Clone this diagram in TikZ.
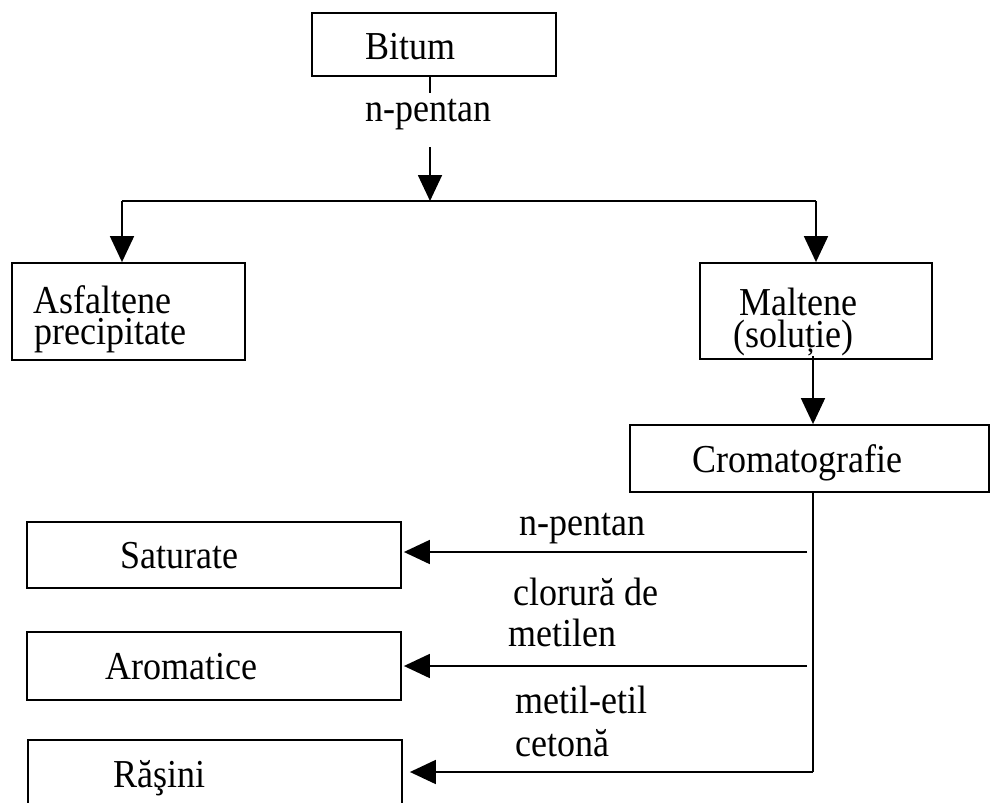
\documentclass[tikz,border=0pt]{standalone}
\usepackage{fontspec}
\setmainfont{Liberation Serif}
\usetikzlibrary{arrows.meta}
% slightly tall lettering
\newcommand\tall[1]{\scalebox{1}[1.1]{#1}}
\begin{document}
\begin{tikzpicture}[x=1pt,y=-1pt,
  box/.style={draw,line width=1.8pt,rectangle,inner sep=0pt},
  txt/.style={anchor=base west,inner sep=0pt,font=\fontsize{36}{30}\selectfont},
  link/.style={line width=1.8pt},
  arr/.style={line width=1.8pt,-{Triangle[length=26pt,width=24pt]}}]
\useasboundingbox (0,0) rectangle (991,803);
\clip (0,0) rectangle (991,803);

% boxes
\node[box,minimum width=244pt,minimum height=63pt] (bitum) at (434,44.5) {};
\node[box,minimum width=233pt,minimum height=97pt] (asf) at (128.5,311.5) {};
\node[box,minimum width=232pt,minimum height=96pt] (malt) at (816,311) {};
\node[box,minimum width=359pt,minimum height=67pt] (crom) at (809.5,458.5) {};
\node[box,minimum width=374pt,minimum height=66pt] (sat) at (214,555) {};
\node[box,minimum width=374pt,minimum height=68pt] (arom) at (214,666) {};
\node[box,minimum width=374pt,minimum height=120pt] (ras) at (215,800) {};

% box texts
\node[txt] (tbitum) at (365,59) {\tall{Bitum}};
\node[txt] (tasf1) at (33,313) {\tall{Asfaltene}};
\node[txt] (tasf2) at (34,344) {\tall{precipitate}};
\node[txt] (tmalt1) at (739,315) {\tall{Maltene}};
\node[txt] (tmalt2) at (733,347) {\tall{(soluție)}};
\node[txt] (tcrom) at (692,472) {\tall{Cromatografie}};
\node[txt] (tsat) at (120,568) {\tall{Saturate}};
\node[txt] (tarom) at (105,679) {\tall{Aromatice}};
\node[txt] (tras) at (113,787) {\tall{Răşini}};

% solvent labels
\node[txt] (l0) at (365,121) {\tall{n-pentan}};
\node[txt] (l1) at (519,535) {\tall{n-pentan}};
\node[txt] (l2a) at (513,605) {\tall{clorură de}};
\node[txt] (l2b) at (508,646) {\tall{metilen}};
\node[txt] (l3a) at (515,713) {\tall{metil-etil}};
\node[txt] (l3b) at (515,756) {\tall{cetonă}};

% junction points
\coordinate (j0a) at (430,93);
\coordinate (j0b) at (430,147);
\coordinate (j) at (430,201);
\coordinate (jl) at (122,201);
\coordinate (jr) at (816,201);
\coordinate (cx) at (813,0);
\coordinate (r1) at (807,552);
\coordinate (r2) at (807,666);
\coordinate (r3) at (813,772);

% n-pentan split
\draw[link] (bitum.south -| j) -- (j0a);
\draw[arr] (j0b) -- (j);
\draw[link] (jl) -- (jr);
\draw[arr] (jl) -- (asf.north -| jl);
\draw[arr] (jr) -- (malt.north -| jr);

% chromatography
\draw[arr] ([yshift=4pt]malt.south -| cx) -- (crom.north -| cx);
\draw[link] (crom.south -| cx) -- (r3);
\draw[arr] (r1) -- ([xshift=2pt]sat.east |- r1);
\draw[arr] (r2) -- ([xshift=2pt]arom.east |- r2);
\draw[arr] (r3) -- ([xshift=7pt]ras.east |- r3);
\end{tikzpicture}
\end{document}
